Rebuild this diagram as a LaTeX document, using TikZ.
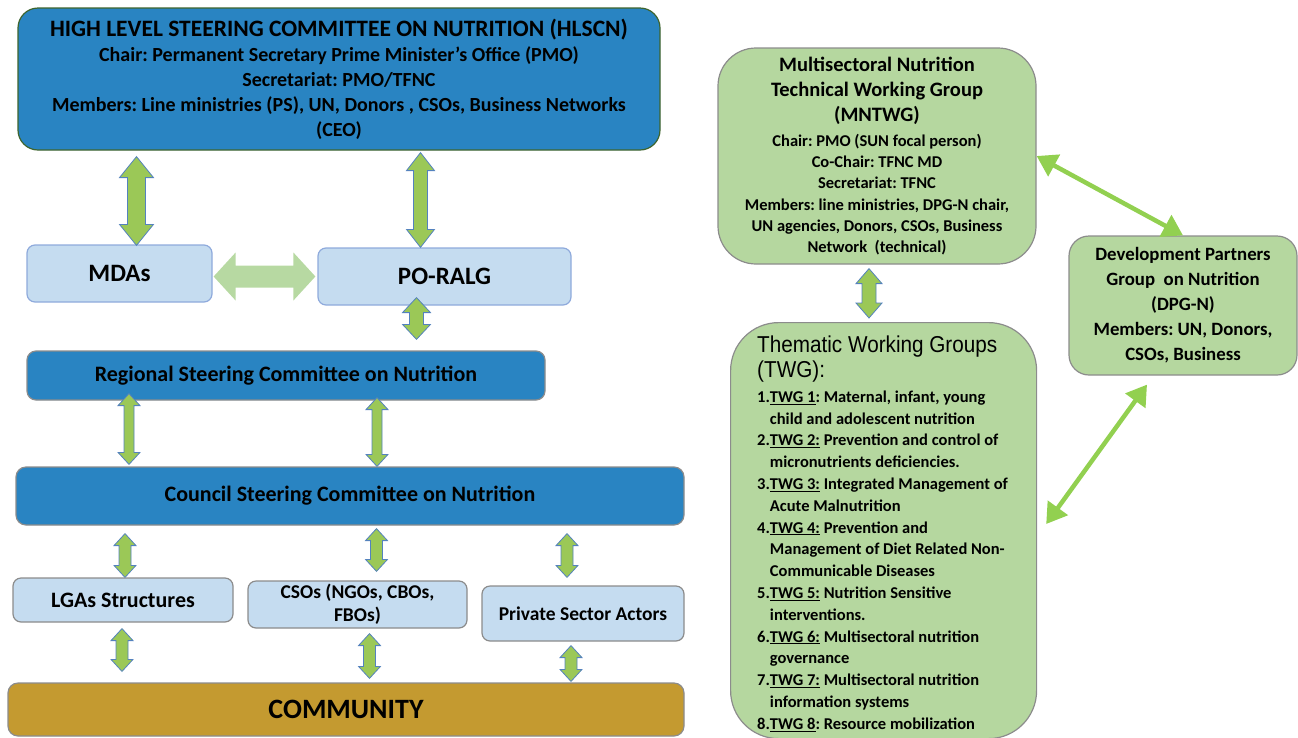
\documentclass[tikz,border=0pt]{standalone}
\usepackage{fontspec}
\setmainfont{Carlito}
\newfontfamily\twgfont[FakeStretch=0.9]{Liberation Sans}
\usetikzlibrary{positioning, calc, arrows.meta}

\definecolor{steerblue}{RGB}{41,132,194}
\definecolor{paleblue}{RGB}{197,220,240}
\definecolor{paleedge}{RGB}{143,170,220}
\definecolor{grayedge}{RGB}{140,140,140}
\definecolor{hlscnedge}{RGB}{62,100,45}
\definecolor{commgold}{RGB}{196,154,48}
\definecolor{twggreen}{RGB}{181,215,159}
\definecolor{arrowgreen}{RGB}{155,200,87}
\definecolor{arrowedge}{RGB}{84,130,190}
\definecolor{linkgreen}{RGB}{146,208,80}
\definecolor{softgreen}{RGB}{183,217,162}

\tikzstyle{steerbox} = [rectangle, rounded corners=9pt, draw=grayedge, line width=1.2pt, fill=steerblue, inner sep=0pt, align=center, font=\bfseries]
\tikzstyle{lightbox} = [rectangle, rounded corners=8pt, draw=grayedge, line width=1.2pt, fill=paleblue, inner sep=0pt, align=center, font=\bfseries]
\tikzstyle{greenbox} = [rectangle, draw=grayedge, line width=1.2pt, fill=twggreen, inner sep=0pt, align=center, font=\bfseries]
\tikzstyle{fatarrow} = [fill=arrowgreen, draw=arrowedge, line width=0.8pt, line join=miter]
\tikzstyle{linkarrow} = [draw=linkgreen, line width=4.5pt, {Triangle[length=20pt,width=24pt]}-{Triangle[length=20pt,width=24pt]}]

% double headed block arrow: [style]{from}{to}{head length}{head half width}{shaft half width}
\newcommand{\bidarrow}[6][]{%
  \path #2 coordinate (ba-s) #3 coordinate (ba-e);
  \coordinate (ba-a) at ($(ba-s)!#4!(ba-e)$);
  \coordinate (ba-b) at ($(ba-e)!#4!(ba-s)$);
  \filldraw[fatarrow, #1] (ba-s)
    -- ($(ba-a)!#5!90:(ba-e)$) -- ($(ba-a)!#6!90:(ba-e)$)
    -- ($(ba-b)!#6!-90:(ba-s)$) -- ($(ba-b)!#5!-90:(ba-s)$)
    -- (ba-e)
    -- ($(ba-b)!#5!90:(ba-s)$) -- ($(ba-b)!#6!90:(ba-s)$)
    -- ($(ba-a)!#6!-90:(ba-e)$) -- ($(ba-a)!#5!-90:(ba-e)$) -- cycle;}

\begin{document}
\frenchspacing
\begin{tikzpicture}[x=1pt, y=-1pt]
    \clip (0,0) rectangle (1298,737);

    % Nodes, left column
    \node (hlscn) [steerbox, draw=hlscnedge, rounded corners=20pt, minimum width=642pt, minimum height=142pt, font=\bfseries\fontsize{20}{25}\selectfont] at (339,79)
        {{\fontsize{23.5}{25}\selectfont HIGH LEVEL STEERING COMMITTEE ON NUTRITION (HLSCN)}\\
         Chair: Permanent Secretary Prime Minister’s Office (PMO)\\
         Secretariat: PMO/TFNC\\
         Members: Line ministries (PS), UN, Donors , CSOs, Business Networks\\
         (CEO)};
    \node (mdas) [lightbox, draw=paleedge, minimum width=185pt, minimum height=57pt, font=\bfseries\fontsize{25}{28}\selectfont] at (119.5,273.5) {MDAs};
    \node (poralg) [lightbox, draw=paleedge, minimum width=253pt, minimum height=57pt, font=\bfseries\fontsize{25}{28}\selectfont] at (444.5,276.5) {PO-RALG};
    \node (regional) [steerbox, minimum width=518pt, minimum height=49pt, font=\bfseries\fontsize{22}{26}\selectfont] at (286,375.5) {Regional Steering Committee on Nutrition};
    \node (council) [steerbox, rounded corners=10pt, minimum width=668pt, minimum height=58pt, font=\bfseries\fontsize{22}{26}\selectfont] at (350,496) {Council Steering Committee on Nutrition};
    \node (lgas) [lightbox, minimum width=220pt, minimum height=44pt, font=\bfseries\fontsize{22}{26}\selectfont] at (123,600) {LGAs Structures};
    \node (csos) [lightbox, minimum width=219pt, minimum height=47pt, font=\bfseries\fontsize{19.5}{23}\selectfont] at (357.5,604.5) {CSOs (NGOs, CBOs,\\FBOs)};
    \node (private) [lightbox, minimum width=202pt, minimum height=55pt, font=\bfseries\fontsize{19.5}{23}\selectfont] at (583,613.5) {Private Sector Actors};
    \node (community) [steerbox, fill=commgold, rounded corners=10pt, minimum width=676pt, minimum height=53pt, font=\bfseries\fontsize{28}{32}\selectfont] at (346,709.5) {\raisebox{-2.5pt}{COMMUNITY}};

    % Nodes, right column
    \node (mntwg) [greenbox, rounded corners=38pt, minimum width=318pt, minimum height=216pt, font=\bfseries\fontsize{16.5}{21.2}\selectfont] at (877,156)
        {{\fontsize{20.5}{25}\selectfont Multisectoral Nutrition}\\[3.8pt]
         {\fontsize{20.5}{25}\selectfont Technical Working Group}\\[3.8pt]
         {\fontsize{20.5}{25}\selectfont (MNTWG)}\\[3.8pt]
         Chair: PMO (SUN focal person)\\
         Co-Chair: TFNC MD\\
         Secretariat: TFNC\\
         Members: line ministries, DPG-N chair,\\
         UN agencies, Donors, CSOs, Business\\
         Network\ \ (technical)};
    \node (dpg) [greenbox, rounded corners=20pt, minimum width=228pt, minimum height=139pt, font=\bfseries\fontsize{18.8}{25}\selectfont] at (1183,305.5)
        {\raisebox{-3pt}{\begin{tabular}{@{}c@{}}Development Partners\\Group\ \ on Nutrition\\(DPG-N)\\Members: UN, Donors,\\CSOs, Business\end{tabular}}};
    \node (twg) [greenbox, rounded corners=48pt, minimum width=306pt, minimum height=416pt, anchor=north west] at (730,322) {};
    \node (twgtitle) [anchor=north west, inner sep=0pt, align=left, font=\twgfont\fontsize{23}{25}\selectfont] at (757,336)
        {Thematic Working Groups\\(TWG):};
    \node (twglist) [below=4pt of twgtitle.south west, anchor=north west, inner sep=0pt, font=\bfseries\fontsize{16.5}{21.8}\selectfont]
        {\setlength{\tabcolsep}{0pt}%
         \begin{tabular}{ll}
         1.&\underline{TWG 1}: Maternal, infant, young\\
           &child and adolescent nutrition\\
         2.&\underline{TWG 2:} Prevention and control of\\
           &micronutrients deficiencies.\\
         3.&\underline{TWG 3:} Integrated Management of\\
           &Acute Malnutrition\\
         4.&\underline{TWG 4:} Prevention and\\
           &Management of Diet Related Non-\\
           &Communicable Diseases\\
         5.&\underline{TWG 5:} Nutrition Sensitive\\
           &interventions.\\
         6.&\underline{TWG 6:} Multisectoral nutrition\\
           &governance\\
         7.&\underline{TWG 7:} Multisectoral nutrition\\
           &information systems\\
         8.&\underline{TWG 8}: Resource mobilization
         \end{tabular}};

    % Arrows, left column
    \bidarrow{($(mdas.north |- hlscn.south)+(17,6)$)}{($(mdas.north)+(17,1)$)}{21pt}{17pt}{9pt}
    \bidarrow{($(poralg.north |- hlscn.south)+(-24,2)$)}{($(poralg.north)+(-24,0)$)}{18pt}{14pt}{7pt}
    \bidarrow[fill=softgreen, draw=none]{($(mdas.east)+(1,3)$)}{($(poralg.west)+(-2,0)$)}{22pt}{24pt}{11pt}
    \bidarrow{($(poralg.south)+(-28,-8)$)}{($(regional.north -| poralg.south)+(-28,-11)$)}{15pt}{14pt}{7pt}
    \bidarrow{($(regional.south)+(-157,-7)$)}{($(council.north -| regional.south)+(-157,-2)$)}{12pt}{11pt}{5pt}
    \bidarrow{($(regional.south)+(91,-3)$)}{($(council.north -| regional.south)+(91,0)$)}{12pt}{11pt}{5pt}
    \bidarrow{($(lgas.north |- council.south)+(2,8)$)}{($(lgas.north)+(2,0)$)}{12pt}{11pt}{6pt}
    \bidarrow{($(csos.north |- council.south)+(19,3)$)}{($(csos.north)+(19,-9)$)}{12pt}{11pt}{6pt}
    \bidarrow{($(private.north |- council.south)+(-16,8)$)}{($(private.north)+(-16,-8)$)}{12pt}{11pt}{6pt}
    \bidarrow{($(lgas.south)+(-1,6)$)}{($(community.north -| lgas.south)+(-1,-11)$)}{12pt}{11pt}{6pt}
    \bidarrow{($(csos.south)+(12,5)$)}{($(community.north -| csos.south)+(12,-4)$)}{12pt}{11pt}{6pt}
    \bidarrow{($(private.south)+(-12,4)$)}{($(community.north -| private.south)+(-12,-1)$)}{12pt}{11pt}{6pt}

    % Arrows, right column
    \bidarrow{($(mntwg.south)+(-8,4)$)}{($(twg.north -| mntwg.south)+(-8,-4)$)}{15pt}{13pt}{7pt}
    \draw [linkarrow] (mntwg.east) -- (dpg.north);
    \draw [linkarrow] ($(dpg.south)+(-36,9)$) -- ($(twg.north east)+(9,202)$);
\end{tikzpicture}
\end{document}
